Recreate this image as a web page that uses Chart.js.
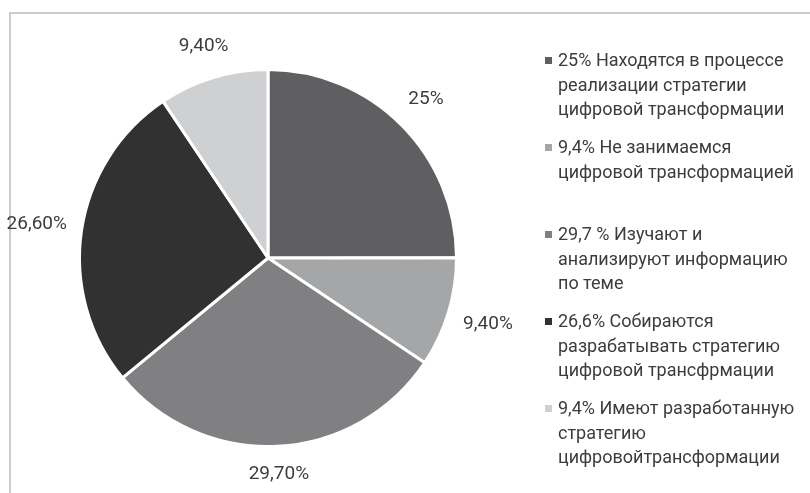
<!DOCTYPE html>
<html>
<head>
<meta charset="utf-8">
<script src="https://cdn.jsdelivr.net/npm/chart.js@4"></script>
<style>
  html, body { margin: 0; padding: 0; background: #fff; }
  #wrap { position: relative; width: 810px; height: 493px; overflow: hidden; }
  #frame {
    position: absolute; left: 9px; top: 12px; right: -10px; bottom: -10px;
    border-top: 2px solid #cbcbcb; border-left: 2px solid #cbcbcb;
  }
  #chart { position: absolute; left: 0; top: 0; }
  #legend {
    position: absolute; left: 545px; top: 48px;
    font-family: Roboto, "Noto Sans", sans-serif; font-size: 18px;
    color: #3c3c3c; line-height: 24.5px;
  }
  .item { position: relative; height: 87px; padding-left: 13px; white-space: nowrap; }
  .box { position: absolute; left: 0; top: 9px; width: 7px; height: 7px; }
</style>
</head>
<body>
<div id="wrap">
  <div id="frame"></div>
  <canvas id="chart" width="810" height="493"></canvas>
  <div id="legend"></div>
</div>
<script>
"use strict";

const categories = [
  ["25% Находятся в процессе", "реализации стратегии", "цифровой трансформации"],
  ["9,4% Не занимаемся", "цифровой трансформацией"],
  ["29,7 % Изучают и", "анализируют информацию", "по теме"],
  ["26,6% Собираются", "разрабатывать стратегию", "цифровой трансфрмации"],
  ["9,4% Имеют разработанную", "стратегию", "цифровойтрансформации"],
];
const values = [25, 9.4, 29.7, 26.6, 9.4];
const valueLabels = ["25%", "9,40%", "29,70%", "26,60%", "9,40%"];
const colors = ["#5f5f61", "#a5a6a8", "#808083", "#323132", "#cfd0d2"];

const outsideLabels = {
  id: "outsideLabels",
  afterDatasetsDraw(chart) {
    const ctx = chart.ctx;
    const meta = chart.getDatasetMeta(0);
    ctx.save();
    ctx.font = "19px Roboto, 'Noto Sans', sans-serif";
    ctx.fillStyle = "#3c3c3c";
    ctx.textAlign = "center";
    ctx.textBaseline = "middle";
    meta.data.forEach((arc, i) => {
      const p = arc.getProps(["x", "y", "startAngle", "endAngle", "outerRadius"], true);
      const mid = (p.startAngle + p.endAngle) / 2;
      const cos = Math.cos(mid);
      const sin = Math.sin(mid);
      const text = valueLabels[i];
      const w = ctx.measureText(text).width;
      const d = p.outerRadius + 19 + Math.abs(cos) * w * 0.42 + Math.abs(sin) * 8;
      ctx.fillText(text, p.x + cos * d, p.y + sin * d);
    });
    ctx.restore();
  },
};

const chart = new Chart(document.getElementById("chart"), {
  type: "pie",
  data: {
    labels: categories,
    datasets: [
      {
        data: values,
        backgroundColor: colors,
        borderColor: "#ffffff",
        borderWidth: 3,
      },
    ],
  },
  options: {
    responsive: false,
    animation: false,
    layout: { padding: { left: 78, right: 352, top: 68, bottom: 45 } },
    plugins: {
      legend: { display: false },
      tooltip: { enabled: false },
    },
  },
  plugins: [outsideLabels],
});

const legend = document.getElementById("legend");
categories.forEach((lines, i) => {
  const item = document.createElement("div");
  item.className = "item";
  item.innerHTML =
    `<span class="box" style="background:${colors[i]}"></span>` + lines.join("<br>");
  legend.appendChild(item);
});
</script>
</body>
</html>
